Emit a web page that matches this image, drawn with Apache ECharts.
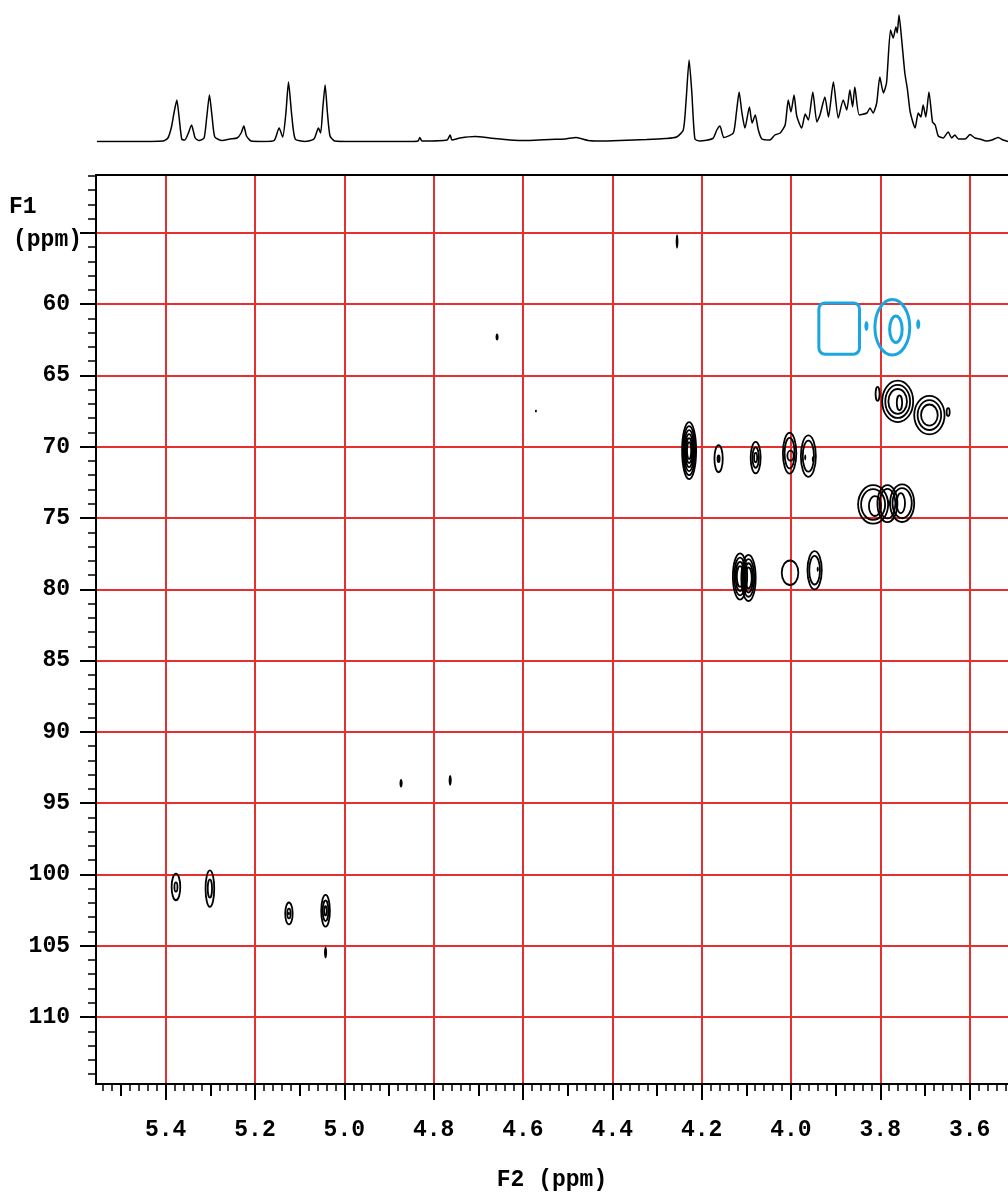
<!DOCTYPE html>
<html>
<head>
<meta charset="utf-8">
<title>HSQC</title>
<script src="https://cdn.jsdelivr.net/npm/echarts@6/dist/echarts.min.js"></script>
<style>
  html, body { margin: 0; padding: 0; background: #fff; overflow: hidden; }
  #main { width: 1008px; height: 1197px; }
</style>
</head>
<body>
<div id="main"></div>
<script>
// axis ranges (ppm)
var f2Range = [3.514, 5.556];
var f1Range = [50.94, 114.70];
var f2Ticks = [5.4, 5.2, 5.0, 4.8, 4.6, 4.4, 4.2, 4.0, 3.8, 3.6];
var f2MidTicks = [5.5, 5.3, 5.1, 4.9, 4.7, 4.5, 4.3, 4.1, 3.9, 3.7];
var f1Ticks = [55, 60, 65, 70, 75, 80, 85, 90, 95, 100, 105, 110];
var f1Labels = [60, 65, 70, 75, 80, 85, 90, 95, 100, 105, 110];

// 1H projection trace [ppm, height]
var proton = [
  [5.554,0.5],[5.480,0.5],[5.406,1],[5.395,4],[5.387,15],[5.381,30],[5.375,42],[5.370,25],
  [5.364,3],[5.357,2],[5.350,8],[5.342,17],[5.334,4],[5.325,1.5],[5.314,4],[5.308,25],
  [5.302,47],[5.296,25],[5.290,5],[5.274,1.5],[5.256,3],[5.240,4],[5.231,9],[5.225,16],
  [5.219,6],[5.209,1],[5.178,0.5],[5.157,1.5],[5.146,14],[5.138,5],[5.131,28],[5.125,60],
  [5.118,28],[5.110,3],[5.088,0.5],[5.068,3],[5.058,14],[5.053,9],[5.048,35],[5.043,57],
  [5.038,30],[5.032,6],[5.021,1],[4.987,0.5],[4.920,0.5],[4.853,0.5],[4.835,1],[4.831,4.5],
  [4.826,1],[4.770,2],[4.763,7],[4.759,2],[4.741,4],[4.707,5.5],[4.674,4],[4.629,2],
  [4.585,1.5],[4.539,2.5],[4.506,3],[4.481,4.5],[4.454,1.5],[4.428,1],[4.383,1.5],[4.323,2.5],
  [4.282,3.5],[4.256,5],[4.241,12],[4.235,40],[4.228,82],[4.222,50],[4.215,3],[4.204,1],
  [4.175,3.5],[4.166,12],[4.159,16],[4.150,4.5],[4.129,9],[4.122,30],[4.116,50],[4.110,30],
  [4.103,14],[4.093,35],[4.087,19],[4.080,27],[4.073,12],[4.065,3],[4.047,2],[4.036,7],
  [4.024,9],[4.013,17],[4.006,42],[4.000,30],[3.993,47],[3.987,26],[3.976,14],[3.968,28],
  [3.961,22],[3.951,50],[3.942,20],[3.935,27],[3.924,45],[3.916,25],[3.905,60],[3.894,24],
  [3.883,42],[3.875,32],[3.868,52],[3.862,35],[3.857,55],[3.847,27],[3.830,29],[3.823,34],
  [3.816,29],[3.808,39],[3.801,65],[3.793,49],[3.786,59],[3.777,112],[3.771,104],[3.765,115],
  [3.762,109],[3.758,127],[3.752,102],[3.745,69],[3.739,52],[3.733,30],[3.722,14],[3.715,29],
  [3.709,25],[3.704,37],[3.698,25],[3.691,50],[3.683,20],[3.677,17],[3.670,6],[3.659,4],
  [3.648,10],[3.640,4],[3.633,7],[3.625,3],[3.610,3],[3.599,7.5],[3.588,4],[3.577,3],
  [3.562,1],[3.550,2],[3.536,4.5],[3.525,2],[3.514,0.5]
];

// positive cross peaks [1H ppm, 13C ppm, half width 1H, half width 13C, levels, innermost level]
var posContours = [
  [4.228, 70.27, 0.0157, 2.00, 6, 0.3],
  [4.162, 70.84, 0.0093, 0.95, 2, 0.25],
  [4.079, 70.76, 0.0112, 1.10, 3, 0.3],
  [4.003, 70.45, 0.0150, 1.43, 2, 0.75],
  [4.001, 70.63, 0.0070, 0.35, 1, 1],
  [3.961, 70.66, 0.0168, 1.45, 2, 0.75],
  [3.761, 66.82, 0.0347, 1.45, 3, 0.6],
  [3.757, 66.92, 0.0060, 0.52, 1, 1],
  [3.690, 67.78, 0.0340, 1.35, 3, 0.55],
  [3.806, 66.29, 0.0045, 0.49, 1, 1],
  [3.648, 67.57, 0.0034, 0.28, 1, 1],
  [3.816, 74.05, 0.0336, 1.35, 2, 0.8],
  [3.784, 73.99, 0.0224, 1.30, 2, 0.8],
  [3.751, 73.96, 0.0270, 1.32, 2, 0.8],
  [3.754, 73.96, 0.0094, 0.70, 1, 1],
  [3.812, 74.16, 0.0134, 0.70, 1, 1],
  [4.114, 79.10, 0.0160, 1.62, 4, 0.45],
  [4.095, 79.20, 0.0160, 1.62, 4, 0.45],
  [4.002, 78.84, 0.0186, 0.86, 1, 1],
  [3.947, 78.66, 0.0160, 1.34, 2, 0.75],
  [5.377, 100.88, 0.0097, 0.93, 2, 0.35],
  [5.301, 100.99, 0.0097, 1.28, 2, 0.5],
  [5.124, 102.74, 0.0083, 0.77, 2, 0.45],
  [5.042, 102.55, 0.0097, 1.11, 3, 0.3]
];

// small filled positive peaks [1H, 13C, half width 1H, half width 13C]
var posDots = [
  [5.042, 105.48, 0.0034, 0.42],
  [4.255, 55.60, 0.0030, 0.50],
  [4.658, 62.30, 0.0034, 0.25],
  [4.571, 67.50, 0.0022, 0.10],
  [4.873, 93.60, 0.0034, 0.30],
  [4.763, 93.40, 0.0034, 0.38],
  [5.124, 102.74, 0.0022, 0.12],
  [4.162, 70.84, 0.0022, 0.15],
  [3.968, 70.75, 0.0022, 0.20],
  [3.951, 70.87, 0.0022, 0.20],
  [3.781, 73.96, 0.0022, 0.22],
  [3.940, 78.60, 0.0022, 0.18]
];

// negative (CH2) peaks
var negContours = [
  [3.773, 61.62, 0.0390, 1.95, 1, 1],
  [3.765, 61.76, 0.0140, 0.93, 1, 1]
];
var negBoxes = [
  [3.892, 61.71, 0.0455, 1.80, 1, 1]
];
var negDots = [
  [3.831, 61.53, 0.0045, 0.35],
  [3.715, 61.41, 0.0045, 0.35]
];

var FONT = '"Liberation Mono", "DejaVu Sans Mono", monospace';
var RED = '#e63030';
var BLUE = '#1ca6e1';

function contourRender(kind, color, lw, filled) {
  return function (params, api) {
    var c = api.coord([api.value(0), api.value(1)]);
    var s = api.size([api.value(2), api.value(3)]);
    var rx = Math.abs(s[0]), ry = Math.abs(s[1]);
    var n = filled ? 1 : api.value(4);
    var inner = filled ? 1 : api.value(5);
    var style = filled ? { fill: color } : { fill: 'none', stroke: color, lineWidth: lw };
    var kids = [];
    for (var i = 0; i < n; i++) {
      var k = n > 1 ? 1 - i * (1 - inner) / (n - 1) : 1;
      if (kind === 'rect') {
        kids.push({
          type: 'rect',
          shape: { x: c[0] - rx * k, y: c[1] - ry * k, width: 2 * rx * k, height: 2 * ry * k, r: rx * k * 0.3 },
          style: style
        });
      } else {
        kids.push({
          type: 'ellipse',
          shape: { cx: c[0], cy: c[1], rx: rx * k, ry: ry * k },
          style: style
        });
      }
    }
    return { type: 'group', children: kids };
  };
}

function peakSeries(data, kind, color, lw, filled) {
  return {
    type: 'custom',
    xAxisIndex: 0,
    yAxisIndex: 0,
    clip: true,
    encode: { x: 0, y: 1 },
    renderItem: contourRender(kind, color, lw, filled),
    data: data,
    z: 5
  };
}

var chart = echarts.init(document.getElementById('main'));
chart.setOption({
  animation: false,
  backgroundColor: '#fff',
  grid: [
    { left: 96, right: 0, top: 175, bottom: 107 },
    { left: 96, right: 0, top: 7, height: 135 }
  ],
  graphic: [
    { type: 'text', left: 9, top: 196, style: { text: 'F1', font: 'bold 23px ' + FONT, fill: '#000' } },
    { type: 'text', left: 13, top: 229, style: { text: '(ppm)', font: 'bold 23px ' + FONT, fill: '#000' } }
  ],
  xAxis: [
    {
      type: 'value', gridIndex: 0, position: 'bottom', inverse: true,
      min: f2Range[0], max: f2Range[1], splitNumber: 10,
      axisLine: { show: true, lineStyle: { color: '#000', width: 2 } },
      axisTick: { show: true, customValues: f2Ticks, length: 16, lineStyle: { color: '#000', width: 2 } },
      minorTick: { show: true, splitNumber: 10, length: 7, lineStyle: { color: '#000', width: 1.5 } },
      axisLabel: {
        customValues: f2Ticks, margin: 35,
        color: '#000', fontFamily: FONT, fontWeight: 'bold', fontSize: 23,
        formatter: function (v) { return v.toFixed(1); }
      },
      splitLine: { show: true, lineStyle: { color: RED, width: 2 } },
      name: 'F2 (ppm)', nameLocation: 'middle', nameGap: 85,
      nameTextStyle: { color: '#000', fontFamily: FONT, fontWeight: 'bold', fontSize: 23 }
    },
    {
      type: 'value', gridIndex: 0, position: 'bottom', inverse: true,
      min: f2Range[0], max: f2Range[1], splitNumber: 10,
      axisLine: { show: false },
      axisTick: { show: true, customValues: f2MidTicks, length: 12, lineStyle: { color: '#000', width: 2 } },
      axisLabel: { show: false },
      splitLine: { show: false }
    },
    {
      type: 'value', gridIndex: 0, position: 'top', inverse: true,
      min: f2Range[0], max: f2Range[1],
      axisLine: { show: true, lineStyle: { color: '#000', width: 2 } },
      axisTick: { show: false }, axisLabel: { show: false }, splitLine: { show: false }
    },
    {
      type: 'value', gridIndex: 1, inverse: true, show: false,
      min: f2Range[0], max: f2Range[1]
    }
  ],
  yAxis: [
    {
      type: 'value', gridIndex: 0, position: 'left', inverse: true,
      min: f1Range[0], max: f1Range[1], splitNumber: 13,
      axisLine: { show: true, lineStyle: { color: '#000', width: 2 } },
      axisTick: { show: true, customValues: f1Ticks, length: 16, lineStyle: { color: '#000', width: 2 } },
      minorTick: { show: true, splitNumber: 5, length: 8, lineStyle: { color: '#000', width: 1.5 } },
      axisLabel: {
        customValues: f1Labels, margin: 26,
        color: '#000', fontFamily: FONT, fontWeight: 'bold', fontSize: 23
      },
      splitLine: { show: true, lineStyle: { color: RED, width: 2 } }
    },
    {
      type: 'value', gridIndex: 1, show: false, min: 0, max: 135
    }
  ],
  series: [
    {
      type: 'line', xAxisIndex: 3, yAxisIndex: 1, data: proton,
      showSymbol: false, symbol: 'none', smooth: 0.2,
      lineStyle: { color: '#000', width: 1.5 }
    },
    peakSeries(posContours, 'ellipse', '#000', 1.8, false),
    peakSeries(posDots, 'ellipse', '#000', 0, true),
    peakSeries(negContours, 'ellipse', BLUE, 3, false),
    peakSeries(negBoxes, 'rect', BLUE, 3, false),
    peakSeries(negDots, 'ellipse', BLUE, 0, true)
  ]
});
</script>
</body>
</html>
